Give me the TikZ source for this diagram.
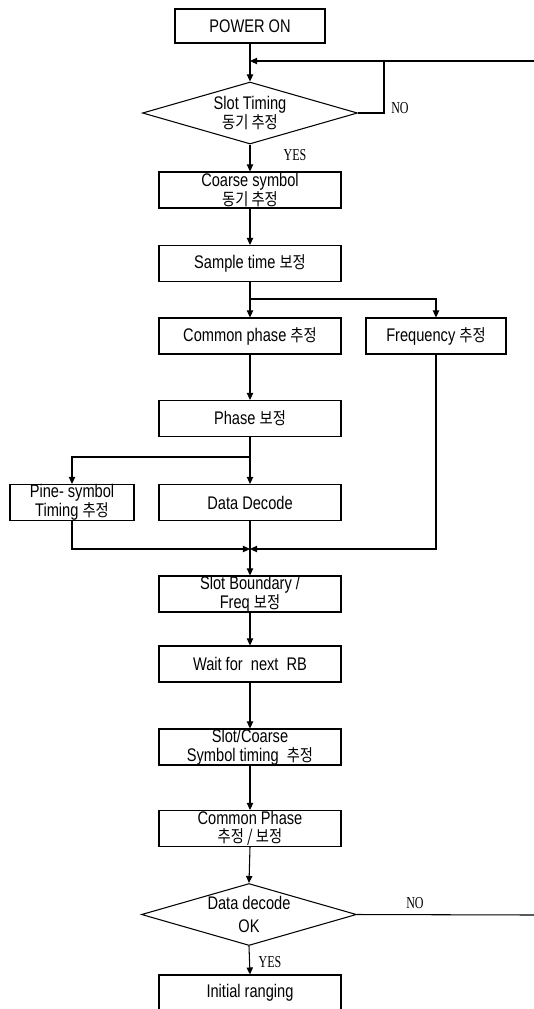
\documentclass[tikz,border=0pt]{standalone}
\usepackage{fontspec}
\setmainfont{Liberation Sans}[FakeStretch=0.8]
\newfontfamily\krfont{Noto Sans CJK KR}[Scale=0.92,FakeStretch=0.85]
\newfontfamily\ynfont{Liberation Serif}[FakeStretch=0.72]
\newcommand{\kor}[1]{{\krfont #1}}
\usetikzlibrary{shapes.geometric,arrows.meta}
\tikzset{
  every picture/.style={line width=0.6pt},
  stepbox/.style={draw, rectangle, inner sep=0pt, minimum width=3.64cm, minimum height=0.72cm,
    align=center, font=\fontsize{10.4}{10.6}\selectfont},
  decision/.style={draw, diamond, shape aspect=3.47, inner sep=0pt, minimum width=4.3cm,
    minimum height=1.24cm, align=center, font=\fontsize{10.4}{10.6}\selectfont},
  arr/.style={-{Triangle[length=4pt,width=3.6pt]}},
  yn/.style={font=\ynfont\fontsize{9.5}{9.5}\selectfont, inner sep=0pt},
}
\begin{document}
\begin{tikzpicture}[x=0.02cm, y=-0.02cm]
\useasboundingbox (0,0) rectangle (534,1009);
\clip (0,0) rectangle (534,1009);

% process steps
\node[stepbox, minimum width=3.0cm, minimum height=0.68cm] (pwr) at (250,26) {POWER ON};
\node[decision] (d1) at (250,113) {Slot Timing\\\kor{동기 추정}};
\node[stepbox] (coarse) at (250,190) {Coarse symbol\\\kor{동기 추정}};
\node[stepbox] (sample) at (250,263.5) {Sample time \kor{보정}};
\node[stepbox] (common) at (250,336) {Common phase \kor{추정}};
\node[stepbox, minimum width=2.8cm] (freq) at (436,336) {Frequency \kor{추정}};
\node[stepbox] (phase) at (250,418.5) {Phase \kor{보정}};
\node[stepbox, minimum width=2.48cm] (pine) at (72,502.5) {Pine- symbol\\Timing \kor{추정}};
\node[stepbox] (dec) at (250,502.5) {Data Decode};
\node[stepbox] (slotb) at (250,594) {Slot Boundary /\\Freq \kor{보정}};
\node[stepbox] (wait) at (250,664) {Wait for\ \ next\ \ RB};
\node[stepbox] (slotc) at (250,747) {Slot/Coarse\\Symbol timing \ \kor{추정}};
\node[stepbox] (cph) at (250,828.5) {Common Phase\\\kor{추정 / 보정}};
\node[decision] (d2) at (249,914.5) {Data decode\\[2pt]OK};
\node[stepbox] (init) at (250,993) {Initial ranging};

% junction points
\coordinate (fbR) at (534,61);
\coordinate (fbJ) at (250,61);
\coordinate (noC) at (384,61);
\coordinate (sp1) at (250,299);
\coordinate (sp2) at (250,457);
\coordinate (mg) at (250,549);
\coordinate (no2) at (534,915);

% connectors
\draw[arr] (pwr.south) -- (d1.north);
\draw[arr] (fbR) -- (fbJ);
\draw (d1.east) -| (noC);
\draw[arr] (d1.south) -- (coarse.north);
\draw[arr] (coarse.south) -- (sample.north);
\draw (sample.south) -- (sp1);
\draw[arr] (sp1) -- (common.north);
\draw[arr] (sp1) -| (freq.north);
\draw[arr] (common.south) -- (phase.north);
\draw (phase.south) -- (sp2);
\draw[arr] (sp2) -- (dec.north);
\draw[arr] (sp2) -| (pine.north);
\draw[arr] (dec.south) -- (slotb.north);
\draw[arr] (pine.south) |- (mg);
\draw[arr] (freq.south) |- (mg);
\draw[arr] (slotb.south) -- (wait.north);
\draw[arr] (wait.south) -- (slotc.north);
\draw[arr] (slotc.south) -- (cph.north);
\draw[arr] (cph.south) -- (d2.north);
\draw[arr] (d2.south) -- (init.north);
\draw (d2.east) -- (no2);

% branch labels
\node[yn] (l1) at (400,108) {NO};
\node[yn] (l2) at (295,155) {YES};
\node[yn] (l3) at (415,903) {NO};
\node[yn] (l4) at (270,962) {YES};
\end{tikzpicture}
\end{document}
